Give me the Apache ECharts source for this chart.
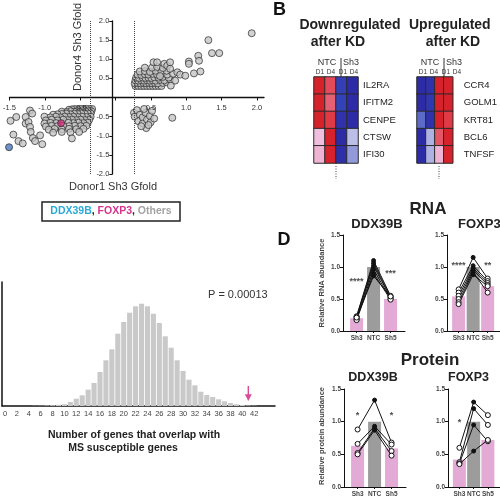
<!DOCTYPE html>
<html><head><meta charset="utf-8">
<script src="https://cdn.jsdelivr.net/npm/echarts@6/dist/echarts.min.js"></script>
<style>html,body{margin:0;padding:0;background:#fff}#c{width:500px;height:500px}</style>
</head><body><div id="c"></div>
<script>
// ---------- Panel A: scatter (Donor1 vs Donor4 Sh3 Gfold) ----------
const scatterOthers = [
[0.32,0.30],[0.36,0.30],[0.40,0.30],[0.44,0.30],[0.48,0.30],[0.52,0.30],[0.56,0.30],[0.60,0.30],[0.64,0.30],[0.68,0.30],
[0.31,0.37],[0.35,0.38],[0.39,0.37],[0.43,0.38],[0.47,0.37],[0.51,0.38],[0.55,0.37],[0.59,0.38],[0.63,0.37],[0.70,0.38],[0.75,0.40],
[0.32,0.45],[0.36,0.44],[0.40,0.45],[0.44,0.44],[0.48,0.45],[0.52,0.44],[0.56,0.45],[0.60,0.44],[0.66,0.46],[0.72,0.45],[0.80,0.47],
[0.33,0.52],[0.37,0.51],[0.42,0.52],[0.46,0.51],[0.50,0.52],[0.54,0.51],[0.58,0.53],[0.64,0.52],[0.70,0.54],[0.78,0.52],
[0.35,0.60],[0.40,0.59],[0.45,0.61],[0.50,0.60],[0.56,0.62],[0.62,0.60],[0.68,0.63],[0.76,0.60],[0.84,0.62],
[0.38,0.68],[0.45,0.69],[0.52,0.67],[0.60,0.70],[0.68,0.68],[0.75,0.70],
[0.55,0.78],[0.62,0.80],[0.70,0.77],[0.57,0.92],[0.62,0.92],[0.72,0.88],[0.76,0.83],[0.80,0.92],[0.80,0.75],[0.87,0.44],[0.81,0.31],
[0.90,0.66],[0.94,0.60],[1.01,0.57],[1.06,0.94],[1.06,0.88],[1.13,0.63],[1.19,1.09],[1.20,0.96],[1.22,0.68],[1.38,1.16],[1.48,1.16],
[1.33,1.50],[1.93,1.68],[0.45,0.78],[0.66,0.56],
[0.30,-0.40],[0.31,-0.50],[0.34,-0.33],[0.38,-0.45],[0.36,-0.62],[0.42,-0.52],[0.42,-0.68],[0.46,-0.40],[0.48,-0.58],[0.47,-0.80],
[0.52,-0.48],[0.53,-0.65],[0.55,-0.35],[0.44,-0.30],[0.50,-0.72],[0.40,-0.75],[0.58,-0.55],[0.83,-0.53],
[-0.28,-0.30],[-0.32,-0.30],[-0.36,-0.30],[-0.40,-0.30],[-0.44,-0.30],[-0.48,-0.31],[-0.52,-0.30],[-0.56,-0.31],[-0.60,-0.32],
[-0.29,-0.36],[-0.33,-0.36],[-0.37,-0.36],[-0.41,-0.36],[-0.45,-0.37],[-0.49,-0.36],[-0.53,-0.37],[-0.58,-0.36],[-0.64,-0.38],[-0.70,-0.37],
[-0.30,-0.42],[-0.34,-0.42],[-0.38,-0.43],[-0.43,-0.42],[-0.48,-0.43],[-0.53,-0.42],[-0.58,-0.44],[-0.64,-0.42],[-0.70,-0.43],[-0.76,-0.44],[-0.82,-0.45],
[-0.30,-0.50],[-0.36,-0.51],[-0.42,-0.50],[-0.48,-0.51],[-0.54,-0.50],[-0.60,-0.51],[-0.66,-0.50],[-0.72,-0.52],[-0.78,-0.50],[-0.86,-0.52],[-0.94,-0.50],
[-0.32,-0.58],[-0.38,-0.59],[-0.44,-0.58],[-0.50,-0.59],[-0.56,-0.58],[-0.62,-0.59],[-0.68,-0.58],[-0.76,-0.60],[-0.84,-0.58],[-0.92,-0.60],
[-0.34,-0.66],[-0.40,-0.67],[-0.47,-0.66],[-0.54,-0.67],[-0.61,-0.66],[-0.78,-0.67],[-0.86,-0.66],[-0.94,-0.68],
[-0.36,-0.74],[-0.44,-0.75],[-0.52,-0.74],[-0.60,-0.75],[-0.68,-0.74],[-0.76,-0.75],[-0.84,-0.74],[-0.92,-0.76],
[-0.40,-0.82],[-0.50,-0.83],[-0.60,-0.82],[-0.70,-0.83],[-0.80,-0.82],[-0.88,-0.84],
[-0.46,-0.90],[-0.58,-0.91],[-0.70,-0.90],[-0.82,-0.92],[-0.56,-1.07],
[-1.41,-0.61],[-1.33,-0.51],[-1.20,-0.51],[-1.14,-0.34],[-1.11,-0.42],[-1.20,-0.68],[-1.16,-0.64],[-1.14,-0.77],[-1.13,-0.90],
[-1.37,-0.97],[-1.30,-1.14],[-1.24,-1.20],[-1.10,-1.06],[-1.07,-1.14],[-0.97,-1.22],[-1.00,-0.99]
];
const scatterDDX39B = [[-1.43,-1.30]];
const scatterFOXP3 = [[-0.71,-0.67]];
const gfoldThresholds = [-0.3, 0.3];

// ---------- Panel B: heatmaps ----------
const hmColumns = ['NTC D1','NTC D4','Sh3 D1','Sh3 D4'];
const downGenes = ['IL2RA','IFITM2','CENPE','CTSW','IFI30'];
const downValues = [
  [1.4, 0.85, -1.0, -1.3],
  [1.4, 0.75, -0.95, -1.3],
  [1.4, 1.0, -1.2, -1.3],
  [0.3, 1.4, -1.3, -0.4],
  [0.35, 1.4, -1.25, -0.55]
];
const upGenes = ['CCR4','GOLM1','KRT81','BCL6','TNFSF'];
const upValues = [
  [-1.3, -1.2, 1.4, 1.4],
  [-1.3, -1.1, 1.4, 1.4],
  [-0.75, -1.2, 1.4, 1.0],
  [-1.3, -0.45, 0.8, 1.4],
  [-1.3, -0.45, 0.35, 1.4]
];

// ---------- Panel C: histogram ----------
const overlapCounts = ['0','1','2','3','4','5','6','7','8','9','10','11','12','13','14','15','16','17','18','19','20','21','22','23','24','25','26','27','28','29','30','31','32','33','34','35','36','37','38','39','40','41','42','43','44','45'];
const overlapFreq = [0,0,0,0,0,0.2,0.3,0.5,0.8,1.2,1.8,4,7.3,10.7,16.3,23,34,45.7,56.7,72.3,84,93.3,99.7,102.3,99.7,92.3,83,69.7,58.3,45.7,35,26.3,20.7,14.3,11,9,6.7,4.7,3,1.7,1,0.5,0.3,0,0,0];
const observedOverlap = 41;
const pValueText = 'P = 0.00013';

// ---------- Panel D: RNA / protein ----------
const kdCats = ['Sh3','NTC','Sh5'];
const rnaDdxBars = [0.20, 1.00, 0.50];
const rnaDdxDonors = [[0.23,1.10,0.55],[0.22,1.06,0.53],[0.20,1.02,0.52],[0.18,0.96,0.50],[0.17,0.90,0.49],[0.21,0.86,0.54]];
const rnaDdxStars = [[0, 0.77, '****'], [2, 0.90, '***']];
const rnaFoxBars = [0.54, 1.00, 0.70];
const rnaFoxDonors = [[0.65,1.15,0.82],[0.60,1.02,0.78],[0.55,0.98,0.75],[0.50,0.95,0.72],[0.45,0.92,0.60],[0.42,0.88,0.70]];
const rnaFoxStars = [[0, 1.03, '****'], [2, 1.03, '**']];
const protDdxBars = [0.63, 1.00, 0.59];
const protDdxDonors = [[0.88,1.33,0.68],[0.66,0.93,0.65],[0.52,0.90,0.55],[0.50,0.87,0.48]];
const protDdxStars = [[0, 1.10, '*'], [2, 1.10, '*']];
const protFoxBars = [0.42, 1.00, 0.72];
const protFoxDonors = [[0.60,1.30,1.10],[0.38,1.20,0.95],[0.36,0.95,0.70],[0.35,0.55,0.72]];
const protFoxStars = [[0, 0.98, '*']];

const FONT = 'Liberation Sans, Arial, sans-serif';
const chart = echarts.init(document.getElementById('c'), null, {renderer: 'canvas'});

const grids = [], xAxes = [], yAxes = [], series = [];
const hiddenAxis = {show: false};

// Panel A data grid (0): axes hidden, visible axes drawn by grids 8 and 9 with the same scale
const A_X = {min: -1.5, max: 2.1}, A_Y = {min: -2, max: 2};
grids.push({left: 4, top: 21, width: 260, height: 153});
xAxes.push(Object.assign({gridIndex: 0, type: 'value', show: false, splitLine: {show: false}}, A_X));
yAxes.push(Object.assign({gridIndex: 0, type: 'value', show: false, splitLine: {show: false}}, A_Y));
const ptStyle = {color: '#c6c6c6', borderColor: '#2a2a2a', borderWidth: 0.9};
series.push({type: 'scatter', xAxisIndex: 0, yAxisIndex: 0, data: scatterOthers, symbolSize: 7, itemStyle: ptStyle,
  markLine: {silent: true, symbol: 'none', label: {show: false},
    lineStyle: {type: 'dotted', color: '#444', width: 1},
    data: gfoldThresholds.map(v => ({xAxis: v}))}});
series.push({type: 'scatter', xAxisIndex: 0, yAxisIndex: 0, data: scatterDDX39B, symbolSize: 7,
  itemStyle: {color: '#4a78bd', borderColor: '#2a2a2a', borderWidth: 0.9}, z: 5});
series.push({type: 'scatter', xAxisIndex: 0, yAxisIndex: 0, data: scatterFOXP3, symbolSize: 7,
  itemStyle: {color: '#d2307a', borderColor: '#2a2a2a', borderWidth: 0.9}, z: 5});

// Panel C histogram (grid 1)
grids.push({left: 1, top: 282, width: 274, height: 124});
xAxes.push({gridIndex: 1, type: 'category', data: overlapCounts, boundaryGap: true,
  axisLine: {lineStyle: {color: '#111', width: 1.5}},
  axisTick: {interval: 1, alignWithLabel: true, length: 3, lineStyle: {color: '#111'}},
  axisLabel: {interval: 1, fontSize: 7.5, color: '#444', margin: 4, formatter: v => (+v <= 42 ? v : '')}});
yAxes.push({gridIndex: 1, type: 'value', min: 0, max: 124,
  axisLine: {show: true, lineStyle: {color: '#111', width: 1.5}},
  axisTick: {show: false}, axisLabel: {show: false}, splitLine: {show: false}});
series.push({type: 'bar', xAxisIndex: 1, yAxisIndex: 1, data: overlapFreq, barCategoryGap: '14%',
  itemStyle: {color: '#c9c9c9'}});
series.push({type: 'scatter', xAxisIndex: 1, yAxisIndex: 1, data: [[observedOverlap, 12.5]],
  symbol: 'path://M4,0 L6,0 L6,10 L10,10 L5,18 L0,10 L4,10 Z', symbolSize: [7, 15],
  itemStyle: {color: '#d0207e'}, z: 5});

// Panel B heatmaps (grids 2,3)
function addHeatmap(gi, left, genes, values, labelMargin) {
  grids.push({left: left, top: 77, width: 44, height: 86});
  xAxes.push({gridIndex: gi, type: 'category', data: hmColumns, show: false});
  yAxes.push({gridIndex: gi, type: 'category', data: genes, inverse: true, position: 'right',
    axisLine: {show: false}, axisTick: {show: false},
    axisLabel: {fontSize: 9.5, color: '#222', margin: labelMargin}});
  const data = [];
  values.forEach((row, r) => row.forEach((v, c) => data.push([c, r, v])));
  series.push({type: 'heatmap', xAxisIndex: gi, yAxisIndex: gi, data: data,
    itemStyle: {borderColor: '#2b2b2b', borderWidth: 1}});
  return series.length - 1;
}
const hm1 = addHeatmap(2, 314, downGenes, downValues, 5);
const hm2 = addHeatmap(3, 417, upGenes, upValues, 11);

// Panel D (grids 4..7)
function addKD(gi, left, top, height, bars, donors, stars) {
  grids.push({left: left, top: top, width: 62, height: height});
  xAxes.push({gridIndex: gi, type: 'value', min: 0, max: 3.65,
    axisLine: {lineStyle: {color: '#111', width: 1}},
    axisTick: {customValues: [0.8, 1.8, 2.8], length: 2, lineStyle: {color: '#111'}},
    axisLabel: {customValues: [0.8, 1.8, 2.8], fontSize: 6.5, fontWeight: 'bold', color: '#444', margin: 4,
      formatter: v => kdCats[Math.round(v - 0.8)]},
    splitLine: {show: false}});
  yAxes.push({gridIndex: gi, type: 'value', min: 0, max: 1.5, interval: 0.5,
    axisLine: {show: true, lineStyle: {color: '#111', width: 1}},
    axisTick: {show: true, length: 3, lineStyle: {color: '#111'}},
    axisLabel: {fontSize: 6.5, fontWeight: 'bold', color: '#444', margin: 3, formatter: v => v.toFixed(1)},
    splitLine: {show: false}});
  series.push({type: 'bar', xAxisIndex: gi, yAxisIndex: gi, barWidth: 13,
    data: bars.map((v, i) => ({value: [i + 0.8, v], itemStyle: {color: i === 1 ? '#9c9c9c' : '#e3aad5'}}))});
  donors.forEach(d => {
    series.push({type: 'line', xAxisIndex: gi, yAxisIndex: gi, z: 4,
      lineStyle: {color: '#111', width: 1},
      symbol: 'circle', symbolSize: 5,
      itemStyle: {color: '#fff', borderColor: '#111', borderWidth: 1},
      data: d.map((v, i) => i === 1
        ? {value: [i + 0.8, v], symbolSize: 4, itemStyle: {color: '#111'}}
        : {value: [i + 0.8, v]})});
  });
  series.push({type: 'scatter', xAxisIndex: gi, yAxisIndex: gi, symbolSize: 0, z: 6,
    data: stars.map(s => ({value: [s[0] + 0.8, s[1]], name: s[2]})),
    label: {show: true, position: 'inside', formatter: p => p.name, fontSize: 9, fontWeight: 'bold', color: '#222'}});
}
addKD(4, 343, 235, 96, rnaDdxBars, rnaDdxDonors, rnaDdxStars);
addKD(5, 447, 235, 96, rnaFoxBars, rnaFoxDonors, rnaFoxStars);
addKD(6, 344, 389, 98, protDdxBars, protDdxDonors, protDdxStars);
addKD(7, 448, 389, 98, protFoxBars, protFoxDonors, protFoxStars);

// Panel A visible axes crossing at the origin
// grid 8: x axis along y = 0 (bottom edge of the upper half)
grids.push({left: 4, top: 21, width: 260, height: 76.5});
xAxes.push(Object.assign({gridIndex: 8, type: 'value', interval: 0.5, z: 10,
  axisLine: {onZero: false, lineStyle: {color: '#111', width: 1.3}},
  axisTick: {length: 3, lineStyle: {color: '#111'}},
  axisLabel: {fontSize: 7.5, color: '#333', margin: 6, formatter: v => v === 0 ? '' : v.toFixed(1)},
  splitLine: {show: false}}, A_X));
yAxes.push({gridIndex: 8, type: 'value', show: false, splitLine: {show: false}});
// grid 9: y axis along x = 0
grids.push({left: 112.3, top: 21, width: 150, height: 153});
xAxes.push({gridIndex: 9, type: 'value', show: false, splitLine: {show: false}});
yAxes.push(Object.assign({gridIndex: 9, type: 'value', interval: 0.5, z: 10,
  axisLine: {show: true, onZero: false, lineStyle: {color: '#111', width: 1.3}},
  axisTick: {show: true, length: 3, lineStyle: {color: '#111'}},
  axisLabel: {fontSize: 7.5, color: '#333', margin: 3, showMinLabel: true, formatter: v => v === 0 ? '' : v.toFixed(1)},
  splitLine: {show: false}}, A_Y));

function txt(x, y, s, size, opts) {
  return Object.assign({type: 'text', x: x, y: y, z: 50,
    style: Object.assign({text: s, font: (opts && opts.bold ? 'bold ' : '') + size + 'px ' + FONT,
      fill: (opts && opts.color) || '#222', textAlign: (opts && opts.align) || 'center', textVerticalAlign: 'middle'},
      (opts && opts.style) || {})}, (opts && opts.extra) || {});
}
const graphics = [
  txt(78, 47, 'Donor4 Sh3 Gfold', 11, {color: '#333', extra: {rotation: Math.PI / 2}}),
  txt(113, 187, 'Donor1 Sh3 Gfold', 11, {color: '#333'}),
  {type: 'rect', shape: {x: 42, y: 202, width: 138, height: 19}, style: {fill: '#fff', stroke: '#222', lineWidth: 1.5}, z: 40},
  {type: 'text', x: 111, y: 211.5, z: 50, style: {
    text: '{a|DDX39B}{k|, }{b|FOXP3}{k|, }{c|Others}', textAlign: 'center', textVerticalAlign: 'middle',
    rich: {a: {fill: '#2aa9d6', font: 'bold 10.5px ' + FONT}, k: {fill: '#222', font: 'bold 10.5px ' + FONT},
      b: {fill: '#d4348c', font: 'bold 10.5px ' + FONT}, c: {fill: '#a3a3a3', font: 'bold 10.5px ' + FONT}}}},
  txt(208, 295, pValueText, 11, {align: 'left', color: '#333'}),
  txt(134, 435, 'Number of genes that overlap with', 10.5, {bold: true}),
  txt(123, 448, 'MS susceptible genes', 10.5, {bold: true}),
  txt(273, 10, 'B', 18, {bold: true, align: 'left', color: '#111'}),
  txt(350, 25, 'Downregulated', 14, {bold: true}),
  txt(338, 42, 'after KD', 14, {bold: true}),
  txt(409, 25, 'Upregulated', 14, {bold: true, align: 'left'}),
  txt(453, 42, 'after KD', 14, {bold: true}),
  txt(327, 63, 'NTC', 9, {color: '#333'}), txt(351, 63, 'Sh3', 9, {color: '#333'}),
  txt(430, 63, 'NTC', 9, {color: '#333'}), txt(454, 63, 'Sh3', 9, {color: '#333'}),
  {type: 'line', shape: {x1: 341, y1: 58, x2: 341, y2: 77}, style: {stroke: '#333', lineWidth: 1}, z: 50},
  {type: 'line', shape: {x1: 444, y1: 58, x2: 444, y2: 77}, style: {stroke: '#333', lineWidth: 1}, z: 50},
  {type: 'line', shape: {x1: 336, y1: 166, x2: 336, y2: 179}, style: {stroke: '#444', lineWidth: 1, lineDash: [1, 1.5]}, z: 50},
  {type: 'line', shape: {x1: 439, y1: 166, x2: 439, y2: 179}, style: {stroke: '#444', lineWidth: 1, lineDash: [1, 1.5]}, z: 50},
  txt(284, 240, 'D', 18, {bold: true, color: '#111'}),
  txt(428, 209, 'RNA', 17, {bold: true}),
  txt(377, 224, 'DDX39B', 13, {bold: true}),
  txt(458, 224, 'FOXP3', 13, {bold: true, align: 'left'}),
  txt(430, 360, 'Protein', 17, {bold: true}),
  txt(373, 378, 'DDX39B', 12.5, {bold: true}),
  txt(448, 378, 'FOXP3', 12.5, {bold: true, align: 'left'}),
  txt(322, 283, 'Relative RNA abundance', 7.5, {bold: true, color: '#444', extra: {rotation: Math.PI / 2}}),
  txt(322, 436, 'Relative protein abundance', 7.5, {bold: true, color: '#444', extra: {rotation: Math.PI / 2}})
];
const colHeaders = [[320, 'D1'], [331, 'D4'], [343, 'D1'], [354, 'D4'], [423, 'D1'], [434, 'D4'], [446, 'D1'], [457, 'D4']];
colHeaders.forEach(h => graphics.push(txt(h[0], 72, h[1], 6.5, {color: '#333'})));

chart.setOption({
  animation: false,
  textStyle: {fontFamily: FONT},
  grid: grids, xAxis: xAxes, yAxis: yAxes, series: series,
  visualMap: [{type: 'continuous', show: false, seriesIndex: [hm1, hm2], dimension: 2, min: -1.5, max: 1.5,
    inRange: {color: ['#2a1d9c', '#3346ba', '#d6d6f0', '#f0bfe0', '#e2404e', '#d41c24']}}],
  graphic: graphics
});
</script></body></html>
